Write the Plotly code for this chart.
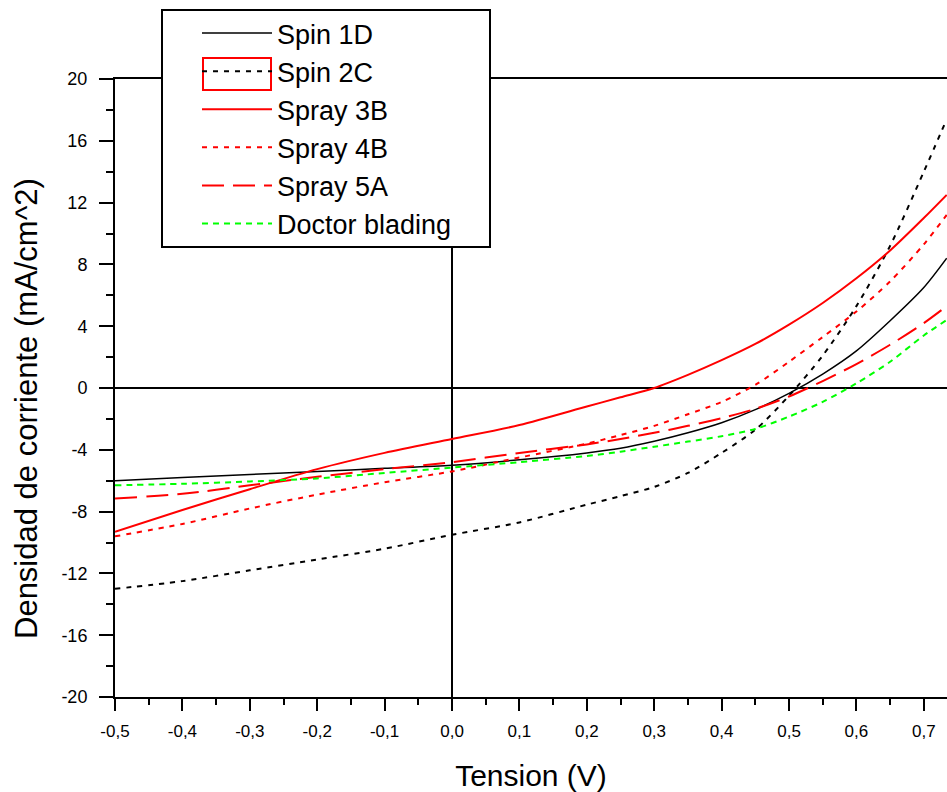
import plotly.graph_objects as go

# Bias voltage (V) at which each J-V curve is sampled
voltage = [-0.5, -0.4, -0.3, -0.2, -0.1, 0.0, 0.1, 0.2, 0.25, 0.3, 0.35,
           0.4, 0.45, 0.5, 0.55, 0.6, 0.65, 0.7, 0.734]

# Current density (mA/cm^2) for each device
spin_1d = [-6.0, -5.8, -5.6, -5.4, -5.2, -5.0, -4.65, -4.2, -3.9, -3.45, -2.9,
           -2.25, -1.4, -0.35, 0.9, 2.4, 4.35, 6.5, 8.4]
spin_2c = [-13.0, -12.5, -11.8, -11.1, -10.4, -9.5, -8.7, -7.55, -7.0, -6.4, -5.5,
           -4.2, -2.7, -0.5, 2.1, 5.3, 9.2, 14.0, 17.4]
spray_3b = [-9.3, -7.9, -6.55, -5.25, -4.2, -3.3, -2.4, -1.2, -0.6, 0.0, 0.85,
            1.8, 2.85, 4.1, 5.5, 7.1, 8.9, 11.0, 12.5]
spray_4b = [-9.6, -8.8, -7.8, -6.9, -6.1, -5.4, -4.5, -3.6, -3.05, -2.45, -1.7,
            -0.9, 0.2, 1.7, 3.3, 4.95, 6.9, 9.3, 11.2]
spray_5a = [-7.15, -6.85, -6.3, -5.75, -5.25, -4.8, -4.2, -3.65, -3.3, -2.9, -2.45,
            -1.95, -1.35, -0.55, 0.45, 1.55, 2.8, 4.2, 5.3]
doctor_blading = [-6.3, -6.2, -6.05, -5.85, -5.5, -5.15, -4.8, -4.4, -4.12, -3.8, -3.47,
                  -3.12, -2.65, -1.85, -0.9, 0.3, 1.7, 3.4, 4.4]

series_names = ["Spin 1D", "Spin 2C", "Spray 3B", "Spray 4B", "Spray 5A", "Doctor blading"]
series_values = [spin_1d, spin_2c, spray_3b, spray_4b, spray_5a, doctor_blading]

# Axis ticks (comma as decimal separator)
x_tick_vals = [-0.5, -0.4, -0.3, -0.2, -0.1, 0.0, 0.1, 0.2, 0.3, 0.4, 0.5, 0.6, 0.7]
x_tick_text = ["-0,5", "-0,4", "-0,3", "-0,2", "-0,1", "0,0", "0,1", "0,2", "0,3",
               "0,4", "0,5", "0,6", "0,7"]
y_tick_vals = [-20, -16, -12, -8, -4, 0, 4, 8, 12, 16, 20]
y_tick_text = ["-20", "-16", "-12", "-8", "-4", "0", "4", "8", "12", "16", "20"]

x_title = "Tension (V)"
y_title = "Densidad de corriente (mA/cm^2)"

line_styles = [
    dict(color="#000000", width=1.5, dash="solid"),
    dict(color="#000000", width=2, dash="5px,6px"),
    dict(color="#ff0000", width=2, dash="solid"),
    dict(color="#ff0000", width=2, dash="5px,6px"),
    dict(color="#ff0000", width=2, dash="22px,9px"),
    dict(color="#00ff00", width=2, dash="6px,5px"),
]

FONT = "Arial, Liberation Sans, sans-serif"

fig = go.Figure()
for name, vals, style in zip(series_names, series_values, line_styles):
    fig.add_trace(go.Scatter(
        x=voltage, y=vals, name=name, mode="lines",
        line=dict(shape="spline", smoothing=0.8, **style),
    ))

W, H = 947, 792
ML, MR, MT, MB = 115, 0, 79, 95
pw, ph = W - ML - MR, H - MT - MB


def px_x(p):
    return (p - ML) / pw


def px_y(p):
    return (H - MB - p) / ph


fig.update_layout(
    width=W, height=H,
    margin=dict(l=ML, r=MR, t=MT, b=MB, pad=0),
    paper_bgcolor="white", plot_bgcolor="white",
    font=dict(family=FONT, color="black"),
    showlegend=True,
    legend=dict(
        x=px_x(197), y=px_y(9), xanchor="left", yanchor="top",
        bgcolor="rgba(0,0,0,0)", borderwidth=0,
        font=dict(family=FONT, size=27, color="black"),
        itemwidth=70, tracegroupgap=0,
    ),
    shapes=[
        # legend frame
        dict(type="rect", xref="paper", yref="paper", layer="above",
             x0=px_x(162), x1=px_x(490), y0=px_y(247), y1=px_y(10),
             line=dict(color="black", width=2), fillcolor="white"),
        # highlighted legend sample
        dict(type="rect", xref="paper", yref="paper", layer="above",
             x0=px_x(203), x1=px_x(271), y0=px_y(90), y1=px_y(58),
             line=dict(color="#ff0000", width=2), fillcolor="rgba(0,0,0,0)"),
    ],
    annotations=[
        # vertical axis title
        dict(text=y_title, textangle=-90, showarrow=False,
             xref="paper", yref="paper", x=px_x(26), y=px_y(409),
             xanchor="center", yanchor="middle",
             font=dict(family=FONT, size=31, color="black")),
    ],
)

fig.update_xaxes(
    range=[-0.5, 0.7344], autorange=False,
    tickmode="array", tickvals=x_tick_vals, ticktext=x_tick_text,
    ticks="outside", ticklen=12, tickwidth=1.5, tickcolor="black",
    minor=dict(dtick=0.05, tick0=0, ticks="outside", ticklen=6, tickwidth=1.5, tickcolor="black"),
    showline=True, linecolor="black", linewidth=2, mirror=True,
    showgrid=False, zeroline=True, zerolinecolor="black", zerolinewidth=1.5,
    tickfont=dict(family=FONT, size=17, color="black"),
    ticklabelstandoff=6,
    title=dict(text=x_title, font=dict(family=FONT, size=30, color="black"), standoff=26),
)
fig.update_yaxes(
    range=[-20, 20], autorange=False,
    tickmode="array", tickvals=y_tick_vals, ticktext=y_tick_text,
    ticks="outside", ticklen=14, tickwidth=1.5, tickcolor="black",
    minor=dict(dtick=2, tick0=0, ticks="outside", ticklen=7, tickwidth=1.5, tickcolor="black"),
    showline=True, linecolor="black", linewidth=2, mirror=False,
    showgrid=False, zeroline=True, zerolinecolor="black", zerolinewidth=1.5,
    tickfont=dict(family=FONT, size=18, color="black"),
    ticklabelstandoff=8,
)

fig.write_html("out.html")
